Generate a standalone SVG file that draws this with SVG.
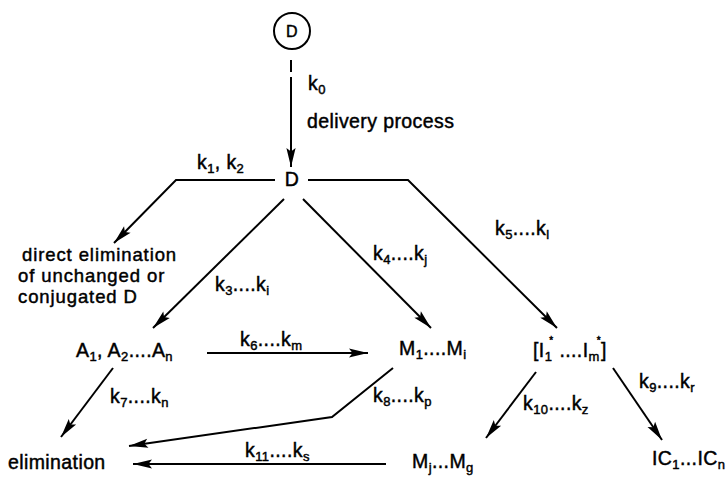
<svg xmlns="http://www.w3.org/2000/svg" width="727" height="478" viewBox="0 0 727 478">
  <style>
    text { font-family: "Liberation Sans", Arial, Helvetica, sans-serif; font-size: 19.5px; fill: #000; stroke: #000; stroke-width: 0.45; letter-spacing: 0.4px; }
    .block { font-size: 18.5px; letter-spacing: 0.9px; }
    .sub { font-size: 13px; }
    .sup { font-size: 10px; }
    .small { font-size: 16px; }
    .edge { fill: none; stroke: #000; stroke-width: 2; stroke-linejoin: miter; }
  </style>
  <defs>
    <marker id="arrow" markerUnits="userSpaceOnUse" markerWidth="22" markerHeight="12" viewBox="-20 -6 22 12" refX="0" refY="0" orient="auto">
      <path d="M0,0 L-19,-4.6 L-15.5,0 L-19,4.6 Z" fill="#000"/>
    </marker>
  </defs>

  <!-- connectors -->
  <g id="connectors">
    <line class="edge" x1="291" y1="60" x2="291" y2="72"/>
    <line class="edge" x1="291" y1="77" x2="291" y2="167" marker-end="url(#arrow)"/>
    <polyline class="edge" points="275,180 176,180 114,243" marker-end="url(#arrow)"/>
    <line class="edge" x1="284" y1="199" x2="153" y2="328" marker-end="url(#arrow)"/>
    <line class="edge" x1="303" y1="199" x2="431" y2="328" marker-end="url(#arrow)"/>
    <polyline class="edge" points="308,180 408,180 557,328" marker-end="url(#arrow)"/>
    <line class="edge" x1="207" y1="353" x2="368" y2="353" marker-end="url(#arrow)"/>
    <line class="edge" x1="113" y1="368" x2="61" y2="437" marker-end="url(#arrow)"/>
    <polyline class="edge" points="393,368 332,417 129,446" marker-end="url(#arrow)"/>
    <line class="edge" x1="386" y1="464" x2="133" y2="464" marker-end="url(#arrow)"/>
    <line class="edge" x1="536" y1="372" x2="486" y2="438" marker-end="url(#arrow)"/>
    <line class="edge" x1="613" y1="368" x2="662" y2="440" marker-end="url(#arrow)"/>
  </g>

  <!-- edge labels -->
  <g id="labels">
    <text x="308" y="90">k<tspan class="sub" dy="4">0</tspan></text>
    <text x="307" y="128">delivery process</text>
    <text x="197" y="169">k<tspan class="sub" dy="4">1</tspan><tspan dy="-4">, k</tspan><tspan class="sub" dy="4">2</tspan></text>
    <text x="215" y="291">k<tspan class="sub" dy="4">3</tspan><tspan dy="-4">....k</tspan><tspan class="sub" dy="4">i</tspan></text>
    <text x="373" y="260">k<tspan class="sub" dy="4">4</tspan><tspan dy="-4">....k</tspan><tspan class="sub" dy="4">j</tspan></text>
    <text x="495" y="235">k<tspan class="sub" dy="4">5</tspan><tspan dy="-4">....k</tspan><tspan class="sub" dy="4">l</tspan></text>
    <text x="240" y="346">k<tspan class="sub" dy="4">6</tspan><tspan dy="-4">....k</tspan><tspan class="sub" dy="4">m</tspan></text>
    <text x="110" y="403">k<tspan class="sub" dy="4">7</tspan><tspan dy="-4">....k</tspan><tspan class="sub" dy="4">n</tspan></text>
    <text x="373" y="402">k<tspan class="sub" dy="4">8</tspan><tspan dy="-4">....k</tspan><tspan class="sub" dy="4">p</tspan></text>
    <text x="639" y="388">k<tspan class="sub" dy="4">9</tspan><tspan dy="-4">....k</tspan><tspan class="sub" dy="4">r</tspan></text>
    <text x="523" y="410">k<tspan class="sub" dy="4">10</tspan><tspan dy="-4">....k</tspan><tspan class="sub" dy="4">z</tspan></text>
    <text x="245" y="457">k<tspan class="sub" dy="4">11</tspan><tspan dy="-4">....k</tspan><tspan class="sub" dy="4">s</tspan></text>
  </g>

  <!-- nodes -->
  <g id="node-dose">
    <circle cx="292" cy="31" r="18" fill="none" stroke="#000" stroke-width="2"/>
    <text class="small" x="292" y="37" text-anchor="middle">D</text>
  </g>
  <g id="node-d">
    <text x="292" y="186" text-anchor="middle">D</text>
  </g>
  <g id="node-direct-elimination">
    <text class="block" x="22" y="260.5">direct elimination</text>
    <text class="block" x="18" y="281.5">of unchanged or</text>
    <text class="block" x="18" y="302.5">conjugated D</text>
  </g>
  <g id="node-a">
    <text x="76" y="357">A<tspan class="sub" dy="4">1</tspan><tspan dy="-4">, A</tspan><tspan class="sub" dy="4">2</tspan><tspan dy="-4">....A</tspan><tspan class="sub" dy="4">n</tspan></text>
  </g>
  <g id="node-m1">
    <text x="399" y="355">M<tspan class="sub" dy="4">1</tspan><tspan dy="-4">....M</tspan><tspan class="sub" dy="4">i</tspan></text>
  </g>
  <g id="node-i">
    <text x="533" y="357">[I<tspan class="sub" dy="4">1</tspan><tspan class="sup" dx="-3" dy="-17">*</tspan><tspan dy="13"> ....I</tspan><tspan class="sub" dy="4">m</tspan><tspan class="sup" dx="-3" dy="-17">*</tspan><tspan dy="13">]</tspan></text>
  </g>
  <g id="node-elimination">
    <text x="8" y="469">elimination</text>
  </g>
  <g id="node-mj">
    <text x="412" y="468">M<tspan class="sub" dy="4">j</tspan><tspan dy="-4">...M</tspan><tspan class="sub" dy="4">g</tspan></text>
  </g>
  <g id="node-ic">
    <text x="652" y="465">IC<tspan class="sub" dy="4">1</tspan><tspan dy="-4">...IC</tspan><tspan class="sub" dy="4">n</tspan></text>
  </g>
</svg>
